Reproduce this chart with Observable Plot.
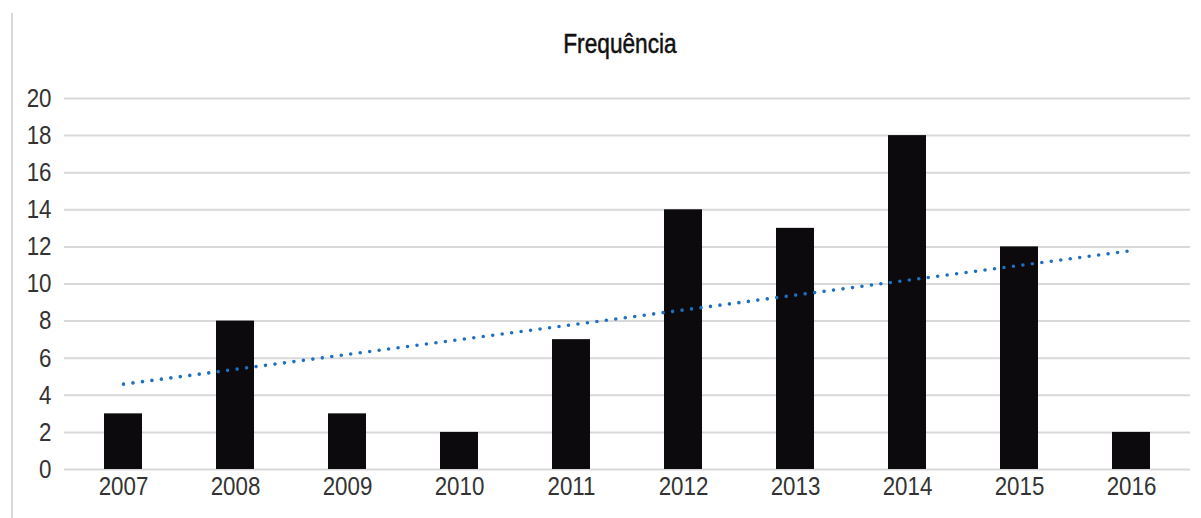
<!DOCTYPE html>
<html>
<head>
<meta charset="utf-8">
<script src="https://cdn.jsdelivr.net/npm/d3@7"></script>
<script src="https://cdn.jsdelivr.net/npm/@observablehq/plot@0.6"></script>
<style>
  html, body { margin: 0; padding: 0; background: #fff; }
  #wrap { position: relative; width: 1201px; height: 518px; overflow: hidden; font-family: "Liberation Sans", Arial, sans-serif; }
  #border { position: absolute; left: 11px; top: 13px; width: 2px; height: 505px; background: #d9d9d9; }
  #title { position: absolute; left: 0; top: 0; width: 1201px; height: 70px; }
  #title span { position: absolute; left: 620px; transform: translateX(-50%) scaleX(0.84); top: 28px; font-size: 27px; line-height: 32px; color: #111; -webkit-text-stroke: 0.5px #111; white-space: nowrap; }
  #chart { position: absolute; left: 0; top: 70px; }
</style>
</head>
<body>
<div id="wrap">
  <div id="border"></div>
  <div id="title"><span>Frequência</span></div>
  <div id="chart"></div>
</div>
<script>
const years = ["2007","2008","2009","2010","2011","2012","2013","2014","2015","2016"];
const counts = [3, 8, 3, 2, 7, 14, 13, 18, 12, 2];
const trendYears = ["2007", "2016"];
const trendValues = [4.6, 11.8];
const yTicks = [0, 2, 4, 6, 8, 10, 12, 14, 16, 18, 20];

const bars = years.map((y, i) => ({year: y, value: counts[i]}));
const trend = trendYears.map((y, i) => ({year: y, value: trendValues[i]}));

const chart = Plot.plot({
  width: 1201,
  height: 448,
  marginTop: 28,
  marginBottom: 49,
  marginLeft: 64,
  marginRight: 11,
  style: { fontFamily: '"Liberation Sans", Arial, sans-serif', fontSize: "26px", color: "#333", background: "transparent" },
  x: { domain: years, paddingInner: 0.66, paddingOuter: 0.33, label: null },
  y: { domain: [0, 20], label: null },
  marks: [
    Plot.ruleY(yTicks, { stroke: "#d9d9d9", strokeWidth: 2 }),
    Plot.barY(bars, { x: "year", y: "value", fill: "#0c0a0d" }),
    Plot.line(trend, { x: "year", y: "value", stroke: "#1f6fc0", strokeWidth: 3.6, strokeLinecap: "round", strokeDasharray: "0 9.55" }),
    Plot.axisY(yTicks, { tickSize: 0, tickPadding: 13, label: null, fill: "#333" }),
    Plot.axisX({ tickSize: 0, tickPadding: 7, label: null, fill: "#333" })
  ]
});
// condense the axis labels horizontally (narrow sans look)
chart.querySelectorAll("text").forEach(t => {
  const tr = t.getAttribute("transform");
  if (tr) {
    t.setAttribute("transform", tr + " scale(0.86,1)");
  } else {
    const x = t.getAttribute("x") || 0, y = t.getAttribute("y") || 0;
    t.removeAttribute("x"); t.removeAttribute("y");
    t.setAttribute("transform", `translate(${x},${y}) scale(0.86,1)`);
  }
});
document.getElementById("chart").appendChild(chart);
</script>
</body>
</html>
